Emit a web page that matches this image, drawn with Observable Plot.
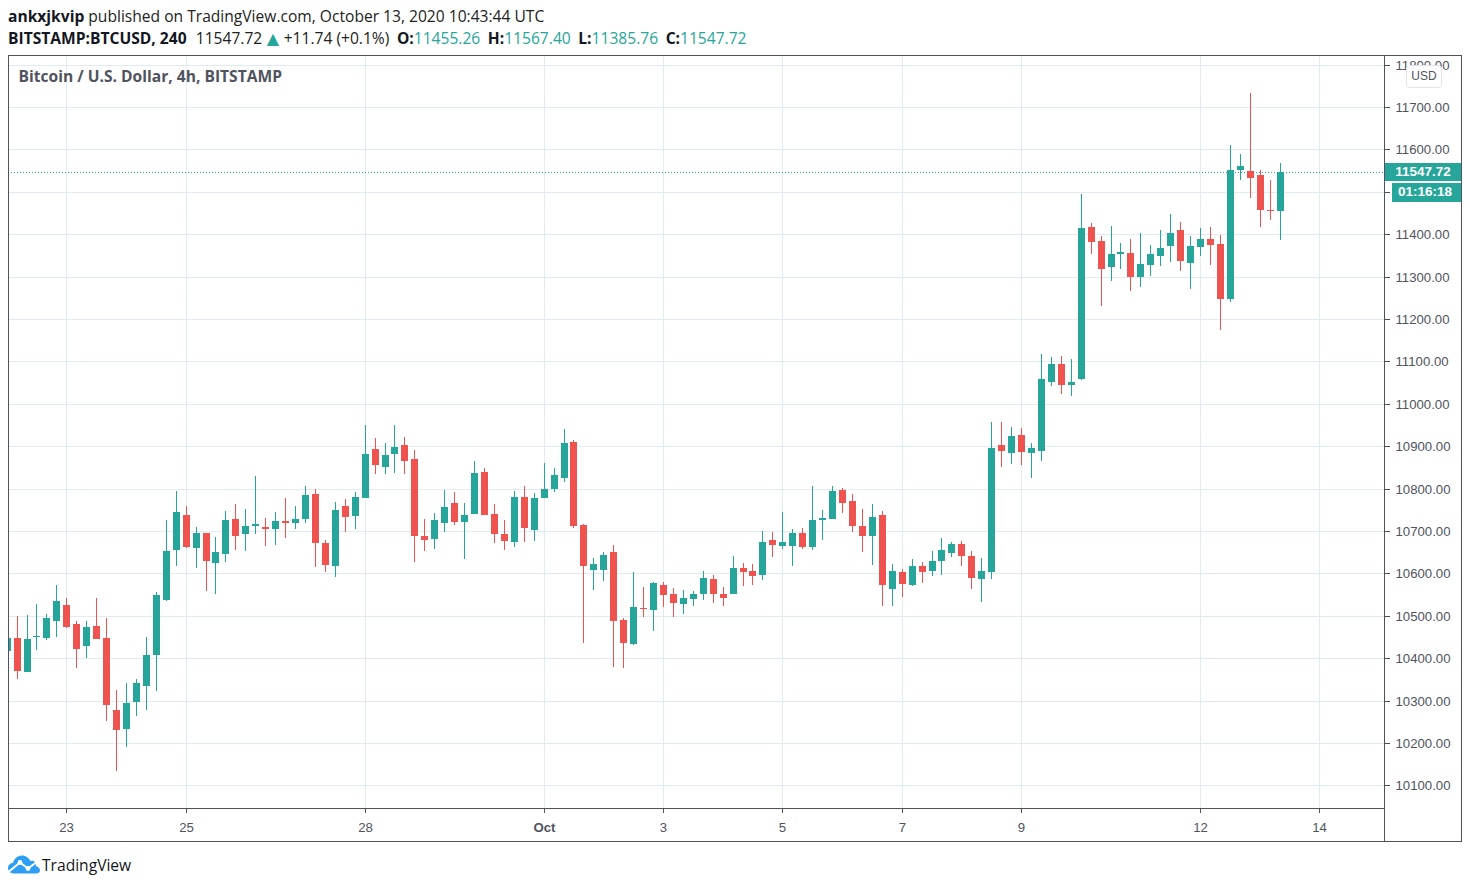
<!DOCTYPE html>
<html>
<head>
<meta charset="utf-8">
<script src="https://cdn.jsdelivr.net/npm/d3@7"></script>
<script src="https://cdn.jsdelivr.net/npm/@observablehq/plot@0.6"></script>
<style>
  html, body { margin: 0; padding: 0; background: #fff; }
  #page { position: relative; width: 1470px; height: 888px; overflow: hidden; }
  #head { position: absolute; left: 8px; top: 5px; font: 15.6px/22px "Open Sans", sans-serif; color: #222; white-space: nowrap; }
  #head b { font-weight: 700; color: #131722; }
  #head b.k { margin-left: 3.5px; }
  #head .t { color: #26a69a; }
  #head .px { margin-left: 1px; }
  #head .tri { color: #26a69a; font: 16px/22px "DejaVu Sans", sans-serif; margin: 0 0.5px; }
  #chart { position: absolute; left: 0; top: 55px; }
  .ln { position: absolute; background: #50535e; }
  .tag { position: absolute; box-sizing: border-box; background: #26a69a; color: #fff; font: bold 13.5px/18px "Liberation Sans", sans-serif; text-align: center; }
  #usd { position: absolute; left: 1406px; top: 65px; width: 34px; height: 21px; background: #fff; border: 1px solid #e0e3eb; border-radius: 4px; color: #50535e; font: 12px/21px "Liberation Sans", sans-serif; text-align: center; }
  #brand { position: absolute; left: 8px; top: 855px; height: 19px; display: flex; align-items: center; font: 15.6px "Open Sans", sans-serif; color: #131722; }
</style>
</head>
<body>
<div id="page">
  <div id="head">
    <div><b>ankxjkvip</b> published on TradingView.com, October 13, 2020 10:43:44 UTC</div>
    <div><b>BITSTAMP:BTCUSD, 240</b>&nbsp; <span class="px">11547.72</span> <span class="tri">▲</span> +11.74 (+0.1%) <b class="k">O:</b><span class="t">11455.26</span> <b class="k">H:</b><span class="t">11567.40</span> <b class="k">L:</b><span class="t">11385.76</span> <b class="k">C:</b><span class="t">11547.72</span></div>
  </div>
  <div id="chart"></div>
  <div class="ln" style="left:8px;top:55px;width:1454px;height:1px"></div>
  <div class="ln" style="left:8px;top:841px;width:1454px;height:1px"></div>
  <div class="ln" style="left:8px;top:55px;width:1px;height:787px"></div>
  <div class="ln" style="left:1461px;top:55px;width:1px;height:787px"></div>
  <div class="ln" style="left:1384px;top:55px;width:1px;height:787px"></div>
  <div class="ln" style="left:8px;top:808px;width:1376px;height:1px"></div>
  <div id="usd">USD</div>
  <div class="tag" style="left:1385px;top:163px;width:76px;height:18px">11547.72</div>
  <div class="tag" style="left:1392px;top:183px;width:69px;height:19px;padding-right:3px">01:16:18</div>
  <div id="brand">
    <svg width="32" height="19" viewBox="0 0 32 18" style="margin-right:2px">
      <path d="M6 18C2 18 0 15 0 12.5C0 9.5 2.5 7.5 5 7.5C6 3 10 0 14 0C18 0 21 2.5 22.5 5.5C24 5 26 5.5 27 6.5C28 8 28 9.5 27.8 10.5C30.5 11 32 13 32 15C32 17 30 18 28 18Z" fill="#2e9ef4"/>
      <polyline points="1,16 12,7 20,13 28,7" fill="none" stroke="#fff" stroke-width="2"/>
      <circle cx="12" cy="7" r="2.4" fill="#fff"/><circle cx="20" cy="13" r="2.4" fill="#fff"/>
    </svg>
    TradingView
  </div>
</div>
<script>
const opens = [10416,10447,10367,10449,10447,10489,10525,10480,10428,10475,10447,10279,10234,10296,10334,10407,10537,10655,10737,10659,10695,10624,10647,10728,10692,10711,10709,10704,10723,10718,
10728,10787,10671,10617,10758,10735,10777,10893,10851,10881,10902,10869,10688,10681,10718,10766,10721,10740,10839,10740,10692,10674,10780,10702,10777,10799,10825,10910,10714,
10608,10608,10651,10490,10434,10519,10514,10573,10552,10528,10540,10552,10587,10552,10552,10613,10606,10596,10679,10665,10665,10696,10663,10726,10729,
10797,10771,10712,10688,10738,10563,10604,10573,10618,10606,10629,10648,10670,10641,10587,10604,10903,10884,10927,10884,
10889,11052,11094,11045,11059,11418,11385,11323,11354,11356,11300,11328,11349,11373,11411,11333,11370,11389,11377,11248,11552,11550,11540,11458,11455.26];
const closes = [10447,10371,10445,10451.5,10494,10534,10473,10421,10473,10445,10289,10230,10294,10341,10407,10548,10652,10744,10662,10695,10629,10650,10725,10688,10711,10716,10704,10723,10718,10728,
10784,10671,10619,10749,10733,10780,10881,10855,10879,10898,10865,10688,10678,10725,10756,10721,10737,10836,10737,10692,10676,10780,10707,10777,10799,10832,10907,10711,10617,
10622,10644,10488,10436,10521,10516,10578,10549,10530,10542,10552,10589,10552,10542,10613,10604,10594,10674,10667,10674,10696,10663,10726,10731,10795,
10766,10712,10688,10733,10573,10606,10575,10618,10604,10629,10655,10670,10641,10589,10606,10896,10889,10924,10887,10896,
11059,11094,11045,11052,11415,11382,11318,11354,11359,11300,11330,11354,11368,11403,11337,11373,11389,11375,11248,11552,11562,11533,11458,11455.26,11547.72];
const highs = [10470,10499,10501,10527,10504,10572,10541,10489,10489,10541,10496,10324,10341,10350,10449,10556,10725,10794,10758,10709,10695,10685,10747,10763,10751,10829,10730,10744,10777,10758,
10806,10799,10678,10768,10775,10792,10950,10919,10907,10950,10921,10891,10728,10742,10796,10792,10766,10865,10848,10763,10725,10794,10806,10789,10860,10848,10940,10914,10716,
10637,10651,10667,10495,10604,10568,10580,10580,10566,10561,10559,10606,10596,10568,10641,10625,10622,10700,10698,10745,10705,10707,10806,10750,10806,
10802,10788,10752,10764,10747,10622,10611,10634,10627,10653,10684,10674,10677,10653,10637,10958,10958,10946,10943,10908,
11118,11111,11113,11106,11495,11427,11396,11420,11380,11389,11403,11375,11411,11448,11429,11396,11415,11418,11399,11611,11590,11732,11552,11529,11567.40];
const lows = [10400,10350,10367,10419,10442,10449,10471,10376,10400,10445,10253,10135,10190,10263,10277,10322,10534,10617,10659,10612,10558,10551,10626,10655,10652,10692,10664,10666,10683,10704,
10718,10615,10603,10591,10697,10704,10777,10834,10834,10836,10834,10626,10652,10657,10697,10714,10633,10740,10737,10671,10655,10662,10674,10676,10777,10792,10815,10707,10435,
10561,10582,10379,10377,10431,10497,10464,10521,10497,10504,10523,10537,10530,10523,10552,10570,10573,10585,10639,10658,10618,10658,10655,10679,10729,
10743,10698,10651,10620,10523,10523,10545,10570,10578,10594,10596,10639,10618,10563,10533,10587,10851,10858,10856,10825,
10865,11042,11023,11019,11057,11354,11231,11290,11318,11267,11276,11302,11326,11335,11314,11271,11349,11328,11175,11241,11529,11486,11418,11434,11385.76];

const firstCandle = Date.UTC(2020, 8, 22, 0);
const xTicks = [Date.UTC(2020,8,23),Date.UTC(2020,8,25),Date.UTC(2020,8,28),Date.UTC(2020,9,1),Date.UTC(2020,9,3),Date.UTC(2020,9,5),Date.UTC(2020,9,7),Date.UTC(2020,9,9),Date.UTC(2020,9,12),Date.UTC(2020,9,14)].map(d => new Date(d));
const xLabels = ["23","25","28","Oct","3","5","7","9","12","14"];
const yTicks = [10100,10200,10300,10400,10500,10600,10700,10800,10900,11000,11100,11200,11300,11400,11500,11600,11700,11800];
const lastPrice = 11547.72;
const xDomain = [new Date(Date.UTC(2020,8,22,0,33)), new Date(Date.UTC(2020,9,15,2,0))];
const yDomain = [10044.46, 11820.4];

const UP = "#26a69a", DOWN = "#ef5350", GRID = "#e1ecf2", INK = "#50535e";
const candles = opens.map((o, i) => ({
  t: new Date(firstCandle + i * 4 * 3600e3),
  o, c: closes[i], h: highs[i], l: lows[i],
  col: closes[i] >= o ? UP : DOWN
}));
const labelOf = d => xLabels[xTicks.findIndex(t => +t === +d)];
const axisFont = {fontSize: 13.2};

const chart = Plot.plot({
  width: 1470, height: 787,
  marginLeft: 8, marginRight: 86, marginTop: 1, marginBottom: 33,
  style: {fontFamily: '"Liberation Sans", sans-serif', fontSize: "13px", color: INK, background: "transparent", display: "block"},
  x: {type: "utc", domain: xDomain, round: true},
  y: {type: "linear", domain: yDomain, round: true},
  color: {type: "identity"},
  marks: [
    Plot.gridY(yTicks, {stroke: GRID, strokeOpacity: 1}),
    Plot.gridX(xTicks, {stroke: GRID, strokeOpacity: 1}),
    Plot.ruleY([lastPrice], {stroke: UP, strokeDasharray: "1,2"}),
    Plot.axisY(yTicks, {anchor: "right", tickSize: 5, tickPadding: 6, stroke: INK, fill: INK, strokeOpacity: 1, fillOpacity: 1, tickFormat: d => d.toFixed(2), label: null, ...axisFont}),
    Plot.axisX(xTicks.filter(d => labelOf(d) !== "Oct"), {anchor: "bottom", tickSize: 4, tickPadding: 9, stroke: INK, fill: INK, strokeOpacity: 1, fillOpacity: 1, tickFormat: labelOf, label: null, ...axisFont}),
    Plot.axisX(xTicks.filter(d => labelOf(d) === "Oct"), {anchor: "bottom", tickSize: 4, tickPadding: 9, stroke: INK, fill: INK, strokeOpacity: 1, fillOpacity: 1, tickFormat: labelOf, label: null, fontWeight: "bold", ...axisFont}),
    Plot.ruleX(candles, {x: "t", y1: "l", y2: "h", stroke: "col", strokeWidth: 1, clip: true}),
    Plot.ruleX(candles, {x: "t", y1: "o", y2: "c", stroke: "col", strokeWidth: 7, clip: true}),
    Plot.text(["Bitcoin / U.S. Dollar, 4h, BITSTAMP"], {frameAnchor: "top-left", dx: 10, dy: 14, fontSize: 15.6, fontWeight: 700, fill: INK, fontFamily: '"Open Sans", sans-serif'})
  ]
});
document.getElementById("chart").appendChild(chart);
</script>
</body>
</html>
